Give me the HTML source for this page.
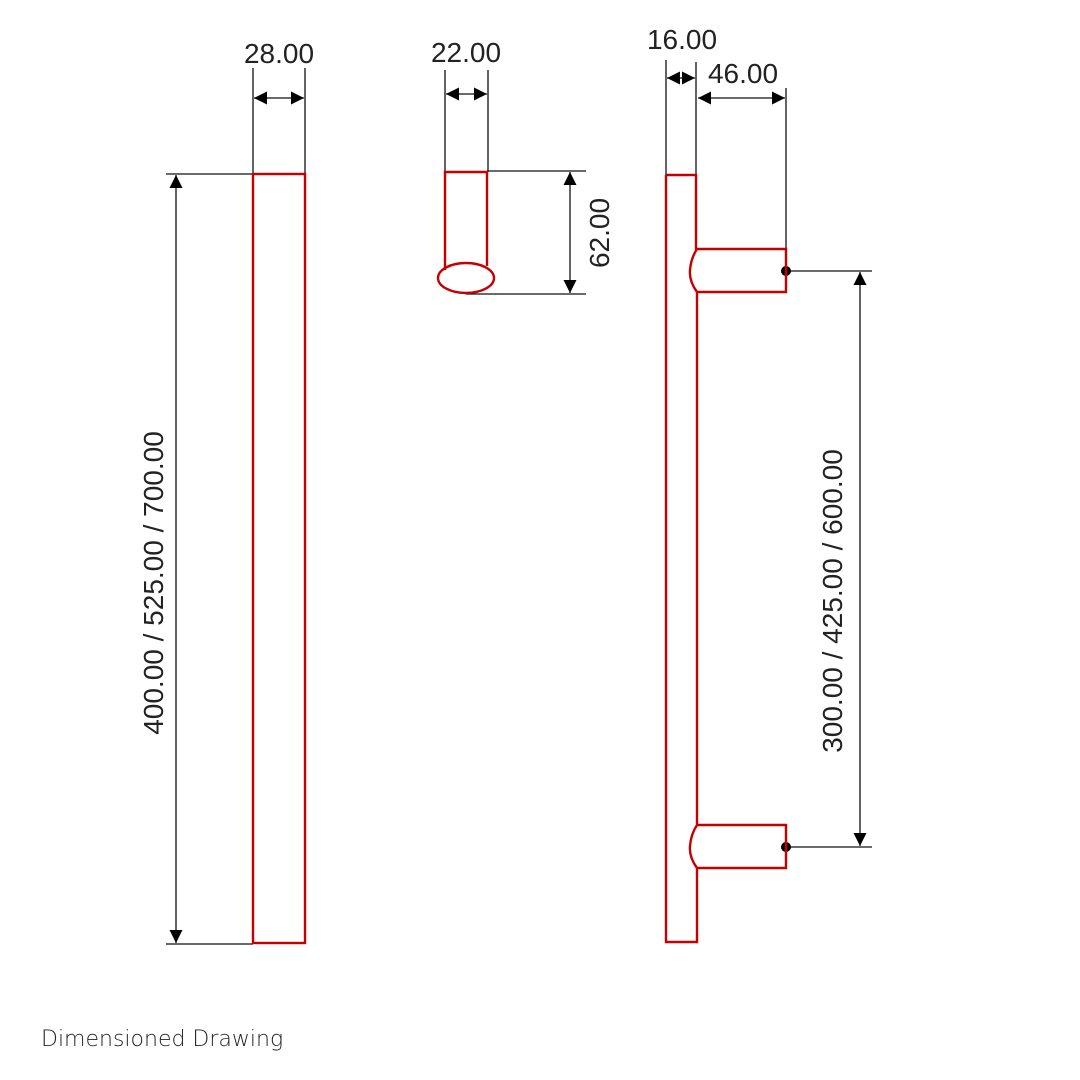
<!DOCTYPE html>
<html><head><meta charset="utf-8"><style>
html,body{margin:0;padding:0;background:#fff;}
svg{display:block;}
text{font-family:"Liberation Sans",sans-serif;fill:#222;}
</style></head><body>
<svg width="1080" height="1080" viewBox="0 0 1080 1080" xmlns="http://www.w3.org/2000/svg">
<defs>
<marker id="a" viewBox="0 0 10 10" refX="10" refY="5" markerWidth="13" markerHeight="13" markerUnits="userSpaceOnUse" orient="auto-start-reverse"><path d="M0,0 L10,5 L0,10 z" fill="#000"/></marker>
</defs>
<g stroke="#111" stroke-width="1.3" fill="none">
<line x1="253" y1="68" x2="253" y2="174"/><line x1="305" y1="68" x2="305" y2="174"/>
<line x1="254" y1="98" x2="304" y2="98" marker-start="url(#a)" marker-end="url(#a)"/>
<line x1="166" y1="174" x2="253" y2="174"/><line x1="166" y1="944" x2="253" y2="944"/>
<line x1="176" y1="175" x2="176" y2="943" marker-start="url(#a)" marker-end="url(#a)"/>
<line x1="445" y1="70" x2="445" y2="172"/><line x1="488" y1="70" x2="488" y2="172"/>
<line x1="446" y1="94" x2="487" y2="94" marker-start="url(#a)" marker-end="url(#a)"/>
<line x1="487" y1="171" x2="586" y2="171"/><line x1="466" y1="294" x2="586" y2="294"/>
<line x1="570" y1="172" x2="570" y2="293" marker-start="url(#a)" marker-end="url(#a)"/>
<line x1="666" y1="60" x2="666" y2="175"/><line x1="696" y1="62" x2="696" y2="249"/>
<line x1="667" y1="78" x2="695" y2="78" marker-start="url(#a)" marker-end="url(#a)"/>
<line x1="786" y1="88" x2="786" y2="249"/>
<line x1="698" y1="98" x2="785" y2="98" marker-start="url(#a)" marker-end="url(#a)"/>
<line x1="786" y1="271" x2="872" y2="271"/><line x1="786" y1="847" x2="872" y2="847"/>
<line x1="860" y1="272" x2="860" y2="846" marker-start="url(#a)" marker-end="url(#a)"/>
</g>
<circle cx="786" cy="271" r="5" fill="#000"/><circle cx="786" cy="847" r="5" fill="#000"/>
<g stroke="#c40000" stroke-width="2.4" fill="none">
<rect x="253" y="174" width="52" height="769"/>
<path d="M445,270 L445,172 L487,172 L487,266"/>
<ellipse cx="466" cy="278" rx="28" ry="15"/>
<path d="M666,175 L696,175 L696,249 L786,249 L786,292 L697,292 Q689,281 690,270 Q691,258 697,249"/>
<path d="M697,292 L697,825 L786,825 L786,868 L697,868 Q689,857 690,846 Q691,834 697,825"/>
<path d="M697,868 L697,942 L666,942 L666,175"/>
</g>
<g font-size="28" text-anchor="middle">
<text x="279" y="63">28.00</text>
<text x="466" y="62">22.00</text>
<text x="682" y="49">16.00</text>
<text x="743" y="83">46.00</text>
<text transform="translate(609,233) rotate(-90)">62.00</text>
<text transform="translate(163,583) rotate(-90)">400.00 / 525.00 / 700.00</text>
<text transform="translate(842,601) rotate(-90)">300.00 / 425.00 / 600.00</text>
</g>
<text x="41" y="1046" font-size="22" style="font-family:'DejaVu Sans','Liberation Sans',sans-serif;font-weight:300" fill="#111">Dimensioned Drawing</text>
</svg>
</body></html>
